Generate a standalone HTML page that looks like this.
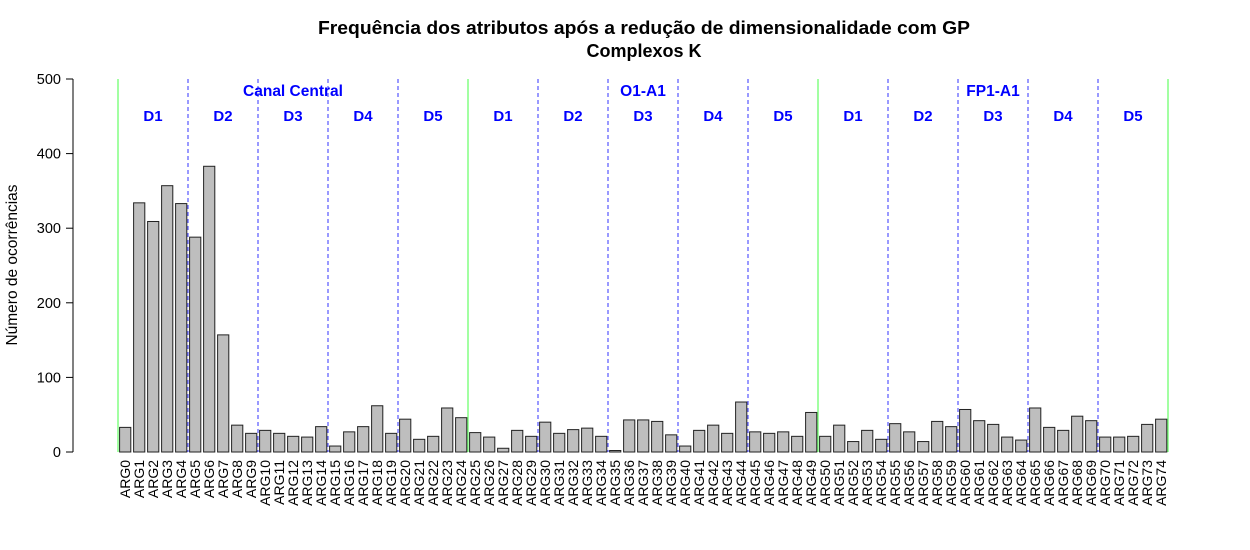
<!DOCTYPE html>
<html><head><meta charset="utf-8"><style>
body{margin:0;background:#fff;}
svg{display:block;font-family:"Liberation Sans",Arial,sans-serif;}
</style></head><body>
<svg id="chart" width="1250" height="550" viewBox="0 0 1250 550">
<text x="644" y="34" text-anchor="middle" font-weight="bold" font-size="18" textLength="652" lengthAdjust="spacingAndGlyphs">Frequência dos atributos após a redução de dimensionalidade com GP</text>
<text x="644" y="57" text-anchor="middle" font-weight="bold" font-size="18">Complexos K</text>
<text transform="translate(17,265) rotate(-90)" text-anchor="middle" font-size="15.5">Número de ocorrências</text>
<g id="yaxis"></g>
<g id="bars"></g>
<g id="lines"></g>
<g id="xlabels"></g>
</svg>
<script>
const categories = Array.from({length:75},(_,i)=>'ARG'+i);
const values = [33,334,309,357,333,288,383,157,36,25,29,25,21,20,34,8,27,34,62,25,44,17,21,59,46,
26,20,5,29,21,40,25,30,32,21,2,43,43,41,23,8,29,36,25,67,27,25,27,21,53,
21,36,14,29,17,38,27,14,41,34,57,42,37,20,16,59,33,29,48,42,20,20,21,37,44];
const yTicks = [0,100,200,300,400,500];
const subLabels = ['D1','D2','D3','D4','D5'];
const channelLabels = ['Canal Central','O1-A1','FP1-A1'];
const NS='http://www.w3.org/2000/svg';
const y0=452, pxPer=373/500, x0=118, slot=14;
const yScale=v=>y0-v*pxPer;
const xScale=i=>x0+slot*i+1.6;
function mk(tag,attrs,parent){const e=document.createElementNS(NS,tag);for(const k in attrs)e.setAttribute(k,attrs[k]);parent.appendChild(e);return e;}
const ya=document.getElementById('yaxis');
let ax=mk('line',{x1:73,x2:73,y1:yScale(0),y2:yScale(500),stroke:'#000'},ya);


yTicks.forEach(t=>{
 const l=mk('line',{x1:66,x2:73,y1:yScale(t),y2:yScale(t),stroke:'#000'},ya);
 
 
 const tx=mk('text',{x:61,y:yScale(t)+5,'text-anchor':'end','font-size':14.5},ya);
 tx.textContent=t;
 
 
});
const bg=document.getElementById('bars'), xl=document.getElementById('xlabels');
values.forEach((v,i)=>{
 const r=mk('rect',{x:xScale(i),y:yScale(v),width:11.2,height:v*pxPer,fill:'#bebebe',stroke:'#222','stroke-width':1},bg);
 
 
 const cx=xScale(i)+5.6;
 const t=mk('text',{transform:`translate(${cx+5},460) rotate(-90)`,'text-anchor':'end','font-size':14},xl);
 t.textContent=categories[i];
 
 
});
const lg=document.getElementById('lines');
for(let k=0;k<=15;k++){
 const x=x0+70*k;
 const green=k%5===0;
 const l=mk('line',{x1:x,x2:x,y1:79,y2:452,stroke:green?'#44ff44':'#3333ff','stroke-width':1,'stroke-dasharray':green?'':'4,3'},lg);
 
 
 if(k<15){
  const t=mk('text',{x:x+35,y:121,'text-anchor':'middle','font-size':15,'font-weight':'bold',fill:'#0000ff'},lg);
  t.textContent=subLabels[k%5];
  
  
 }
}
channelLabels.forEach((c,j)=>{
 const t=mk('text',{x:x0+350*j+175,y:96,'text-anchor':'middle','font-size':15.5,'font-weight':'bold',fill:'#0000ff'},lg);
 t.textContent=c;
 
 
});
</script>
</body></html>
